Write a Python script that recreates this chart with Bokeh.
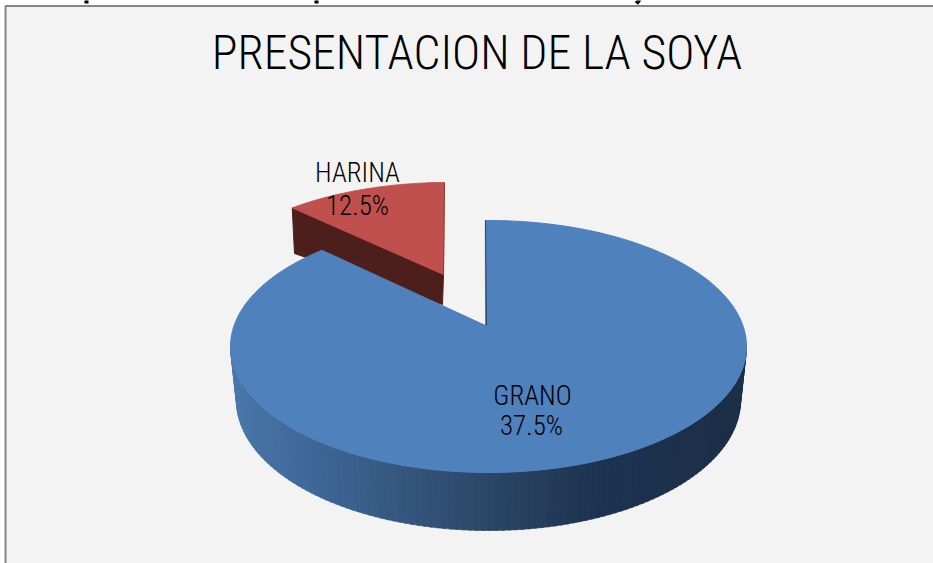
import numpy as np
from bokeh.plotting import figure
from bokeh.models import Range1d
from bokeh.core.properties import value
from bokeh.embed import file_html
from bokeh.resources import INLINE

TITLE = "PRESENTACION DE LA SOYA"
CATEGORIES = ["GRANO", "HARINA"]
LABEL_PERCENT = ["37.5%", "12.5%"]
SWEEP_DEGREES = [320.5, 36.3]   # sweep of each slice
COLORS = ["#4f81bd", "#c0504d"]
FONT = value("Roboto Condensed Light")
START = 90.7

W, H = 933, 563
p = figure(width=W, height=H, output_backend="svg", toolbar_location=None,
           x_range=Range1d(0, W), y_range=Range1d(H, 0),
           min_border=0, min_border_left=0, min_border_right=0,
           min_border_top=0, min_border_bottom=0,
           x_axis_type=None, y_axis_type=None, outline_line_color=None,
           background_fill_color="white", border_fill_color="white")
p.styles = {"position": "absolute", "left": "0px", "top": "0px"}
p.grid.visible = False

# chart area
p.quad(left=5, right=W + 4, top=5.5, bottom=H + 4, fill_color="#f3f3f3",
       line_color="#868686", line_width=2)

# cut-off descenders of the page text above the chart
p.segment(x0=[86, 316, 636], y0=[-1, -1, 3], x1=[86, 316, 639], y1=[3, 3, -1], line_color="black", line_width=4)


def arc(cx, cy, rx, ry, t0, t1, n=160):
    t = np.radians(np.linspace(t0, t1, n))
    return cx + rx * np.cos(t), cy - ry * np.sin(t)


RX, RY = 258, 126
# ---- HARINA slice (pulled out)
hcx, hcy = 447, 308
hx, hy = arc(hcx, hcy, RX, RY, START, START + SWEEP_DEGREES[1])
p.patch([hx[-1], 443, 442, 294], [hy[-1], 274, 304, 253], fill_color="#4d1f1c", line_color="#4d1f1c", line_width=1)
p.patch(list(hx) + [443], list(hy) + [274], fill_color=COLORS[1], line_color=COLORS[1], line_width=1)
p.line([444, 443], [182, 274], line_color="#8c3a38", line_width=1)

# ---- GRANO slice: rim
gcx, gcy = 488, 346
grx2, gry2, gcy2 = 252, 130, 400
stops_x = [236, 330, 490, 600, 741]
stops_c = np.array([[0x4a, 0x77, 0xab], [0x3d, 0x65, 0x94], [0x2c, 0x47, 0x66],
                    [0x1d, 0x33, 0x50], [0x1c, 0x2f, 0x48]])
ts = np.linspace(180, 360, 121)
xs, ys, cols = [], [], []
for a, b in zip(ts[:-1], ts[1:]):
    tx, ty = arc(gcx, gcy, RX, RY, a, b + 0.6, 4)
    bx, by = arc(gcx, gcy2, grx2, gry2, a, b + 0.6, 4)
    xs.append(list(tx) + list(bx[::-1]))
    ys.append(list(ty) + list(by[::-1]))
    mid = bx.mean()
    c = [int(np.interp(mid, stops_x, stops_c[:, i])) for i in range(3)]
    cols.append("#%02x%02x%02x" % tuple(c))
p.patches(xs, ys, fill_color=cols, line_color=cols, line_width=0.6)

# ---- GRANO slice: top
gx, gy = arc(gcx, gcy, RX, RY, START, START - SWEEP_DEGREES[0], 400)
p.patch(list(gx) + [485], list(gy) + [325], fill_color=COLORS[0], line_color=COLORS[0], line_width=1)
p.line([485, 486], [220, 325], line_color="#2a4a70", line_width=1)

# ---- Texts
p.text(x=[476.5], y=[52], text=[TITLE], text_font=FONT, text_font_size="47.7px", text_color="black",
       text_align="center", text_baseline="middle")
p.text(x=[357, 357], y=[172, 205], text=[CATEGORIES[1], LABEL_PERCENT[1]], text_font=FONT, text_font_size="27px",
       text_color="black", text_align="center", text_baseline="middle")
p.text(x=[532, 531], y=[395, 425], text=[CATEGORIES[0], LABEL_PERCENT[0]], text_font=FONT, text_font_size="27px",
       text_color="black", text_align="center", text_baseline="middle")

open("out.html", "w").write(file_html(p, INLINE))
